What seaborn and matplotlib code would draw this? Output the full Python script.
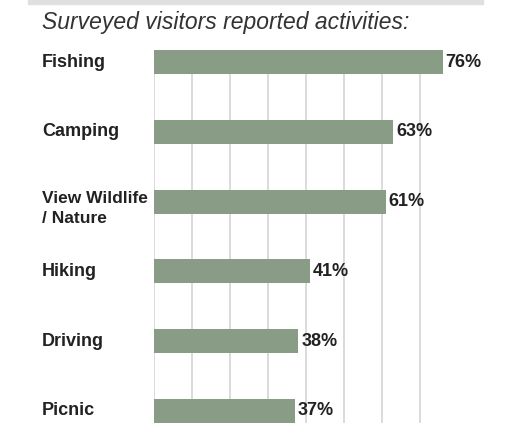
import matplotlib
matplotlib.use("Agg")
import matplotlib.pyplot as plt
import matplotlib.transforms as mtransforms
from matplotlib.patches import Rectangle
import pandas as pd
import seaborn as sns

# Survey data
activities = ["Fishing", "Camping", "View Wildlife\n/ Nature", "Hiking", "Driving", "Picnic"]
percent = [76, 63, 61, 41, 38, 37]
grid_ticks = [0, 10, 20, 30, 40, 50, 60, 70]
title = "Surveyed visitors reported activities:"

df = pd.DataFrame({"activity": activities, "percent": percent})

sns.set_theme(style="white")
plt.rcParams["font.family"] = ["Liberation Sans", "DejaVu Sans"]

fig = plt.figure(figsize=(5.16, 4.24), dpi=100)
ax = fig.add_axes([154 / 516, 1 / 424, 304 / 516, 373 / 424])

bar_h = 0.344
sns.barplot(data=df, x="percent", y="activity", orient="h", color="#889c86",
            saturation=1, width=bar_h, linewidth=0, edgecolor="none",
            ax=ax, zorder=3)

ax.set_xlim(0, 80)
ax.set_ylim(5 + bar_h / 2, -bar_h / 2)
ax.set_xticks(grid_ticks)
ax.xaxis.grid(True, color="#d4d4d4", linewidth=1.2, zorder=0)
ax.yaxis.grid(False)
ax.set_axisbelow(True)
ax.tick_params(left=False, bottom=False, labelleft=False, labelbottom=False)
ax.set_xlabel("")
ax.set_ylabel("")
for s in ax.spines.values():
    s.set_visible(False)

# value labels
ax.bar_label(ax.containers[0], labels=[f"{v}%" for v in percent], padding=2,
             fontsize=13, fontweight="bold", color="#222222")

# category labels on the left
trans = mtransforms.blended_transform_factory(fig.transFigure, ax.transData)
for i, name in enumerate(activities):
    two_line = "\n" in name
    ax.text(42 / 516, i + (0.1 if two_line else 0), name, transform=trans,
            ha="left", va="center", fontsize=12.5 if two_line else 13,
            fontweight="bold", color="#222222", linespacing=1.45)

# grey band on top and title
fig.patches.append(Rectangle((28 / 516, 1 - 4 / 424), 455 / 516, 4 / 424,
                             transform=fig.transFigure, color="#e0e0e0", zorder=0))
fig.text(42 / 516, 1 - 28.5 / 424, title, ha="left", va="baseline", fontsize=16.5,
         fontstyle="italic", color="#333333")

fig.savefig("out.png", dpi=100)
